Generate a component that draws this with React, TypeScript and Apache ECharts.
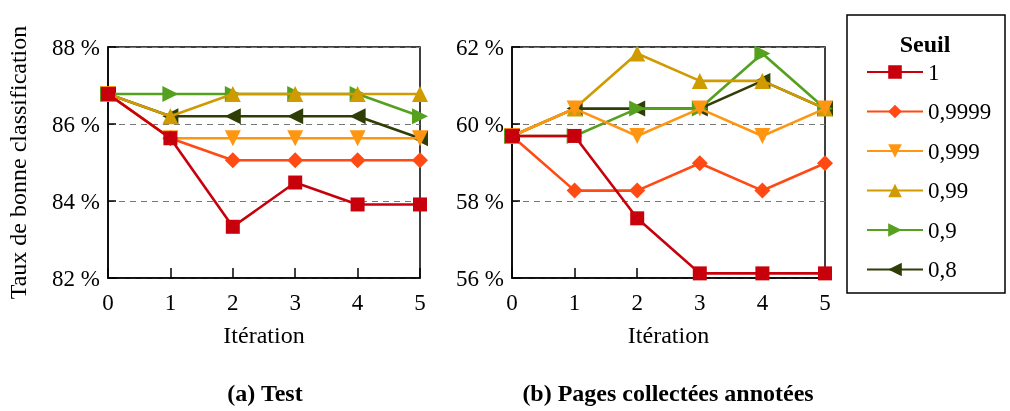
import React, { useEffect, useRef } from "react";
import * as echarts from "echarts";

const iterations = [0, 1, 2, 3, 4, 5];
const seuils = ["1", "0,9999", "0,999", "0,99", "0,9", "0,8"];
const colors = ["#c8000c", "#ff4a14", "#ff9612", "#d09b00", "#55a01e", "#2f3d06"];
const symbols = ["rect", "diamond", "triangle", "triangle", "triangle", "triangle"];
const rotations = [0, 0, 180, 0, -90, 90];
const symbolSizes = [14, 16, 16, 16, 16, 16];

// (a) Test
const testS1 = [86.78, 85.63, 83.33, 84.48, 83.91, 83.91];
const testS9999 = [86.78, 85.63, 85.06, 85.06, 85.06, 85.06];
const testS999 = [86.78, 85.63, 85.63, 85.63, 85.63, 85.63];
const testS99 = [86.78, 86.2, 86.78, 86.78, 86.78, 86.78];
const testS9 = [86.78, 86.78, 86.78, 86.78, 86.78, 86.2];
const testS8 = [86.78, 86.2, 86.2, 86.2, 86.2, 85.63];

// (b) Pages collectées annotées
const pagesS1 = [59.69, 59.69, 57.55, 56.12, 56.12, 56.12];
const pagesS9999 = [59.69, 58.27, 58.27, 58.98, 58.27, 58.98];
const pagesS999 = [59.69, 60.4, 59.69, 60.4, 59.69, 60.4];
const pagesS99 = [59.69, 60.4, 61.83, 61.12, 61.12, 60.4];
const pagesS9 = [59.69, 59.69, 60.4, 60.4, 61.83, 60.4];
const pagesS8 = [59.69, 60.4, 60.4, 60.4, 61.12, 60.4];

const testTicks = [82, 84, 86, 88];
const pagesTicks = [56, 58, 60, 62];

const FONT = "Liberation Serif";

export default function App() {
  const ref = useRef<HTMLDivElement>(null);
  useEffect(() => {
    if (!ref.current) return;
    const chart = echarts.init(ref.current, undefined, { renderer: "svg" });
    const testData = [testS1, testS9999, testS999, testS99, testS9, testS8];
    const pagesData = [pagesS1, pagesS9999, pagesS999, pagesS99, pagesS9, pagesS8];

    const mkSeries = (data: number[][], idx: number) =>
      seuils
        .map((name, i) => ({
          name,
          type: "line",
          xAxisIndex: idx,
          yAxisIndex: idx,
          data: iterations.map((x, j) => [x, data[i][j]]),
          symbol: symbols[i],
          symbolSize: symbolSizes[i],
          symbolRotate: rotations[i],
          showAllSymbol: true,
          clip: false,
          z: 10 - i,
          lineStyle: { color: colors[i], width: 2.6 },
          itemStyle: { color: colors[i], borderWidth: 0 },
          emphasis: { disabled: true },
        }))
        .reverse();

    const xAxisCommon = (gridIndex: number) => ({
      type: "value",
      gridIndex,
      min: 0,
      max: 5,
      interval: 1,
      name: "Itération",
      nameLocation: "middle",
      nameGap: 45,
      nameTextStyle: { fontFamily: FONT, fontSize: 24, color: "#000" },
      axisLine: { show: true, lineStyle: { color: "#000", width: 1.5 } },
      axisTick: { show: true, inside: true, length: 10, lineStyle: { color: "#000", width: 1.5 } },
      axisLabel: { fontFamily: FONT, fontSize: 23, color: "#000", margin: 13 },
      splitLine: { show: false },
    });

    const yAxisCommon = (gridIndex: number, ticks: number[], withName: boolean) => ({
      type: "value",
      gridIndex,
      min: ticks[0],
      max: ticks[ticks.length - 1],
      interval: 2,
      name: withName ? "Taux de bonne classification" : "",
      nameLocation: "middle",
      nameGap: 78,
      nameTextStyle: { fontFamily: FONT, fontSize: 24, color: "#000" },
      axisLine: { show: true, lineStyle: { color: "#000", width: 1.5 } },
      axisTick: { show: true, inside: true, length: 8, lineStyle: { color: "#000", width: 1.5 } },
      axisLabel: {
        fontFamily: FONT,
        fontSize: 23,
        color: "#000",
        margin: 8,
        formatter: (v: number) => `${v} %`,
      },
      splitLine: { show: true, lineStyle: { color: "#777", type: [6, 5], width: 1.2 } },
    });

    const titleText = (text: string, x: number, y: number) => ({
      type: "text",
      x,
      y,
      style: {
        text,
        fontFamily: FONT,
        fontWeight: "bold",
        fontSize: 24,
        fill: "#000",
        textAlign: "center",
        textVerticalAlign: "middle",
      },
    });

    chart.setOption({
      animation: false,
      textStyle: { fontFamily: FONT },
      grid: [
        { left: 108, top: 47, width: 312, height: 231, show: true, borderColor: "#000", borderWidth: 1.5 },
        { left: 512, top: 47, width: 313, height: 231, show: true, borderColor: "#000", borderWidth: 1.5 },
      ],
      xAxis: [xAxisCommon(0), xAxisCommon(1)],
      yAxis: [yAxisCommon(0, testTicks, true), yAxisCommon(1, pagesTicks, false)],
      legend: {
        orient: "vertical",
        left: 866,
        top: 60,
        padding: 0,
        itemWidth: 56,
        itemHeight: 17,
        itemGap: 15.5,
        data: seuils,
        selectedMode: false,
        textStyle: { fontFamily: FONT, fontSize: 23, lineHeight: 24, color: "#000" },
      },
      graphic: [
        {
          type: "rect",
          shape: { x: 847, y: 15, width: 158, height: 278 },
          style: { fill: "none", stroke: "#000", lineWidth: 1.5 },
          silent: true,
        },
        titleText("Seuil", 925, 44),
        titleText("(a) Test", 265, 393),
        titleText("(b) Pages collectées annotées", 668, 393),
      ],
      series: [...mkSeries(testData, 0), ...mkSeries(pagesData, 1)],
    });
    return () => chart.dispose();
  }, []);
  return <div ref={ref} style={{ position: "fixed", left: 0, top: 0, width: 1010, height: 411 }} />;
}
